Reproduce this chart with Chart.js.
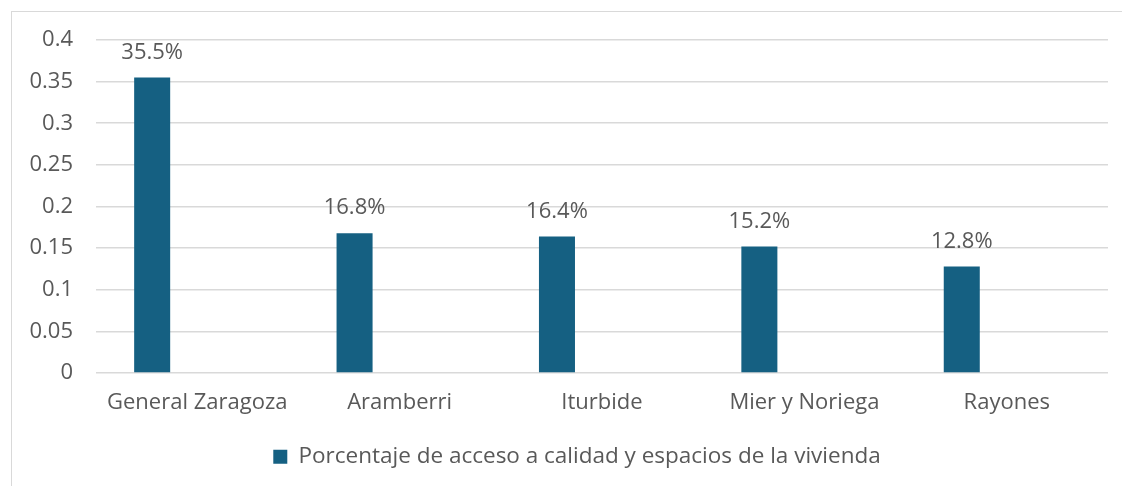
<!DOCTYPE html>
<html>
<head>
<meta charset="utf-8">
<script src="https://cdn.jsdelivr.net/npm/chart.js@4"></script>
<style>
  html, body { margin: 0; padding: 0; background: #fff; overflow: hidden; }
  #wrap { position: relative; width: 1122px; height: 486px; }
  #frame { position: absolute; left: 11px; top: 11px; width: 1200px; height: 600px; border: 1px solid #d9d9d9; box-sizing: border-box; }
  canvas { position: absolute; left: 0; top: 0; }
</style>
</head>
<body>
<div id="wrap">
  <div id="frame"></div>
  <canvas id="myChart" width="1122" height="486"></canvas>
</div>
<script>
// data
var municipios = ["General Zaragoza", "Aramberri", "Iturbide", "Mier y Noriega", "Rayones"]
var porcentajes = [0.355, 0.168, 0.164, 0.152, 0.128]
var etiquetas = ["35.5%", "16.8%", "16.4%", "15.2%", "12.8%"]
var serieNombre = "Porcentaje de acceso a calidad y espacios de la vivienda"

var textColor = "#595959"
var fontFamily = "'Open Sans'"
var fontSize = 22

// draws the % labels above each bar
var barLabels = {
    id: 'barLabels',
    afterDatasetsDraw: function (chart) {
        var ctx = chart.ctx
        var meta = chart.getDatasetMeta(0)
        ctx.save()
        ctx.fillStyle = textColor
        ctx.font = fontSize + "px " + fontFamily
        ctx.textAlign = "center"
        ctx.textBaseline = "middle"
        meta.data.forEach(function (bar, i) {
            ctx.fillText(etiquetas[i], bar.x, bar.y - 25)
        })
        ctx.restore()
    }
}

// legend in the original is centred a bit more to the right
var legendShift = {
    id: 'legendShift',
    afterLayout: function (chart) {
        chart.legend.left += 23
        chart.legend.right += 23
    }
}

var chart = new Chart(document.getElementById("myChart"), {
    type: 'bar',
    data: {
        labels: municipios,
        datasets: [
            {
                label: serieNombre,
                backgroundColor: "#156082",
                data: porcentajes,
                categoryPercentage: 0.89,
                barPercentage: 0.4
            },
            {
                // empty second slot, the bars sit on the left half like the original
                label: "",
                data: municipios.map(function () { return null }),
                categoryPercentage: 0.89,
                barPercentage: 0.4
            }
        ]
    },
    options: {
        responsive: false,
        animation: false,
        layout: {
            padding: { left: 0, right: 14, top: 40, bottom: 8 }
        },
        plugins: {
            legend: {
                position: 'bottom',
                labels: {
                    filter: function (item) { return item.datasetIndex === 0 },
                    color: textColor,
                    font: { family: "Open Sans", size: 22.5 },
                    boxWidth: 14,
                    boxHeight: 14,
                    padding: 22
                }
            },
            tooltip: { enabled: false }
        },
        scales: {
            x: {
                grid: { display: false },
                border: { display: false },
                ticks: {
                    color: textColor,
                    font: { family: "Open Sans", size: fontSize },
                    padding: 8,
                    maxRotation: 0
                }
            },
            y: {
                min: 0,
                max: 0.4,
                afterFit: function (axis) { axis.width = 96 },
                grid: { color: "#d9d9d9", lineWidth: 1.6, drawTicks: false },
                border: { display: false },
                ticks: {
                    stepSize: 0.05,
                    color: textColor,
                    font: { family: "Open Sans", size: fontSize },
                    padding: 23,
                    callback: function (v) { return parseFloat(v.toFixed(2)).toString() }
                }
            }
        }
    },
    plugins: [barLabels, legendShift]
});
</script>
</body>
</html>
